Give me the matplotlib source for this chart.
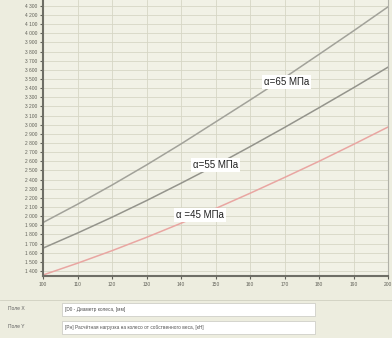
import matplotlib
matplotlib.use("Agg")
import matplotlib.pyplot as plt
from matplotlib.patches import Rectangle

# диаметр колеса, мм
d = [100, 110, 120, 130, 140, 150, 160, 170, 180, 190, 200]

# нагрузка для трёх значений напряжения
a65 = [1930, 2130, 2340, 2560, 2790, 3030, 3270, 3515, 3770, 4027, 4290]
a55 = [1650, 1815, 1988, 2170, 2360, 2555, 2760, 2970, 3186, 3405, 3630]
a45 = [1356, 1485, 1622, 1768, 1922, 2083, 2250, 2423, 2600, 2785, 2975]

yt = list(range(1400, 4400, 100))
ylab = ["%d %03d" % (v // 1000, v % 1000) for v in yt]

plt.rcParams['font.family'] = ['Liberation Sans', 'DejaVu Sans']

bg = "#ededdf"
fig = plt.figure(figsize=(3.92, 3.38), dpi=100, facecolor=bg)
ax = fig.add_axes([43/392, 62/338, 345/392, 276/338])
ax.set_facecolor("#f1f1e6")

ax.plot(d, a65, color="#a2a29a", lw=1.1)
ax.plot(d, a55, color="#94948c", lw=1.1)
ax.plot(d, a45, color="#e9a6a2", lw=1.1)

ax.set_xlim(100, 200)
ax.set_ylim(1345, 4365)
ax.set_xticks(d)
ax.set_yticks(yt)
ax.set_yticklabels(ylab)
ax.tick_params(labelsize=3.5, length=2, colors="#606058", pad=2)
ax.grid(True, color="#d6d6c5", lw=0.6)

ax.spines["top"].set_visible(False)
ax.spines["left"].set_color("#6e6e66")
ax.spines["left"].set_linewidth(1.5)
ax.spines["bottom"].set_color("#6e6e66")
ax.spines["bottom"].set_linewidth(1.5)
ax.spines["right"].set_color("#b0b0a8")
ax.spines["right"].set_linewidth(0.8)

box = dict(boxstyle="square,pad=0.2", fc="white", ec="none")
ax.text(170.5, 3470, "α=65 МПа", fontsize=7, ha="center", va="center", bbox=box, color="#202020")
ax.text(150, 2560, "α=55 МПа", fontsize=7, ha="center", va="center", bbox=box, color="#202020")
ax.text(145.5, 2010, "α =45 МПа", fontsize=7, ha="center", va="center", bbox=box, color="#202020")

# нижняя панель с полями
fig.add_artist(plt.Line2D([0, 1], [1 - 300/338, 1 - 300/338], color="#d0d0c0", lw=0.6))
fig.text(8/392, 1 - 309/338, "Поле X", fontsize=3.6, color="#606060", va="center")
fig.text(8/392, 1 - 327/338, "Поле Y", fontsize=3.6, color="#606060", va="center")
fig.add_artist(Rectangle((62/392, 1 - 316/338), 253/392, 13/338, transform=fig.transFigure,
                         fc="white", ec="#c8c8c0", lw=0.5))
fig.add_artist(Rectangle((62/392, 1 - 334/338), 253/392, 13/338, transform=fig.transFigure,
                         fc="white", ec="#c8c8c0", lw=0.5))
fig.text(65/392, 1 - 309/338, "[D0 - Диаметр колеса, [мм]", fontsize=3.4, color="#505050", va="center")
fig.text(65/392, 1 - 327/338, "[Pн] Расчётная нагрузка на колесо от собственного веса, [кН]",
         fontsize=3.4, color="#505050", va="center")

fig.savefig("out.png", dpi=100, facecolor=bg)
